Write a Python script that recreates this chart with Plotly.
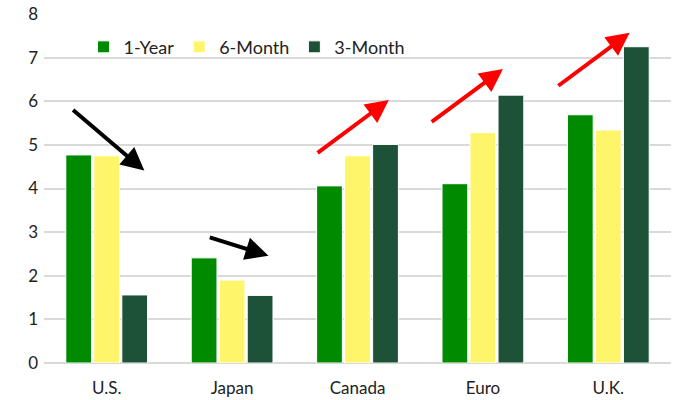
import plotly.graph_objects as go

# Policy-rate expectations by economy and horizon (%)
categories = ["U.S.", "Japan", "Canada", "Euro", "U.K."]
one_year = [4.77, 2.41, 4.06, 4.11, 5.69]
six_month = [4.75, 1.90, 4.75, 5.28, 5.34]
three_month = [1.56, 1.55, 5.01, 6.14, 7.25]

series = [
    ("1-Year", one_year, "#008a00"),
    ("6-Month", six_month, "#fff56b"),
    ("3-Month", three_month, "#1d5238"),
]

# Trend arrows: (tail x, tail y, head x, head y, colour), x in category units
arrows = [
    (-0.28, 5.83, 0.30, 4.41, "black"),
    (0.81, 2.89, 1.29, 2.46, "black"),
    (1.67, 4.79, 2.25, 6.03, "red"),
    (2.58, 5.50, 3.16, 6.74, "red"),
    (3.59, 6.33, 4.17, 7.57, "red"),
]

fig = go.Figure()
for name, vals, color in series:
    fig.add_trace(go.Bar(
        x=categories, y=vals, name=name,
        marker=dict(color=color, line=dict(color="white", width=1)),
    ))

for x0, y0, x1, y1, c in arrows:
    fig.add_annotation(
        x=x1, y=y1, ax=x0, ay=y0, xref="x", yref="y", axref="x", ayref="y",
        text="", showarrow=True, arrowhead=2, arrowsize=1.15, arrowwidth=4,
        arrowcolor=c, standoff=0, startstandoff=0,
    )

font = "Lato, 'Noto Sans', sans-serif"
fig.update_layout(
    width=677, height=400,
    margin=dict(l=44, r=6, t=14, b=37),
    paper_bgcolor="white", plot_bgcolor="white",
    barmode="group", bargap=0.33, bargroupgap=0.08,
    font=dict(family=font, size=17, color="#222222"),
    legend=dict(
        orientation="h", x=0.063, y=0.905, xanchor="left", yanchor="middle",
        font=dict(size=18, color="#222222"), bgcolor="rgba(0,0,0,0)",
        itemwidth=30, traceorder="normal",
    ),
    xaxis=dict(showgrid=False, ticks="", showline=False, automargin=False,
               tickfont=dict(size=17), ticklabelstandoff=13),
    yaxis=dict(range=[0, 8], dtick=1, showgrid=True, gridcolor="#d9d9d9",
               gridwidth=1.8, zeroline=True, zerolinecolor="#d9d9d9",
               zerolinewidth=1.8, ticks="", tickfont=dict(size=17),
               ticklabelstandoff=5, automargin=False),
)

fig.write_html("out.html")
